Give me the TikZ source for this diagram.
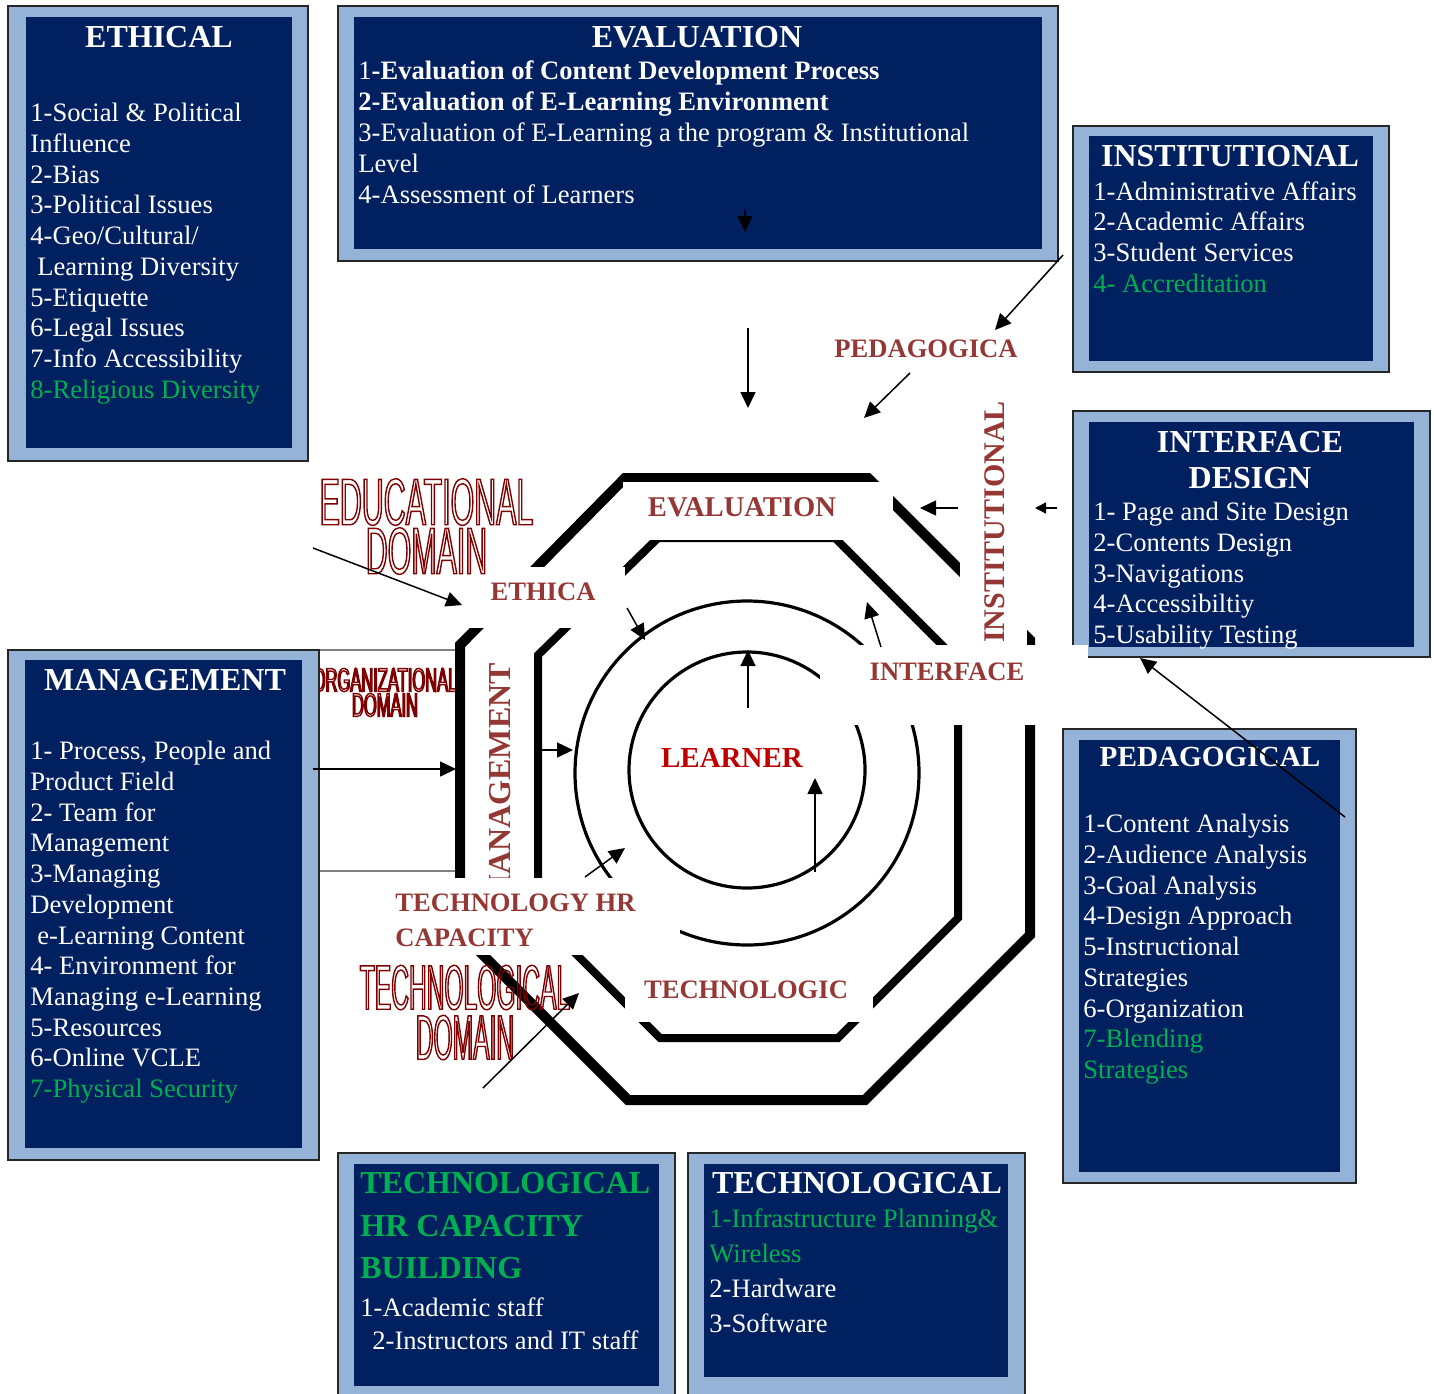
\documentclass[tikz,border=0pt]{standalone}
\usepackage{fontspec}
\setmainfont{Liberation Serif}
\newfontfamily\domfont[FakeStretch=0.46]{Liberation Sans}
\newfontfamily\domfontb[FakeStretch=0.39]{Liberation Sans}
\newfontfamily\orgfont[FakeStretch=0.5]{Liberation Sans}
\usetikzlibrary{arrows.meta}
\definecolor{navy}{HTML}{002060}
\definecolor{paleblue}{HTML}{95B3D7}
\definecolor{itemgreen}{HTML}{00B050}
\definecolor{labelred}{HTML}{953734}
\definecolor{learnerred}{HTML}{C00000}
\definecolor{domainred}{HTML}{7F0000}
% hollow letters for the domain names
\newcommand\hollowon{\special{pdf:literal direct 1 Tr 0.7 w}}
\newcommand\hollowoff{\special{pdf:literal direct 0 Tr}}
\tikzset{
  outerbox/.style={draw=black!85, line width=0.8pt, fill=paleblue},
  innerbox/.style={fill=navy},
  boxtitle/.style={text=white, font=\fontsize{16}{18}\selectfont\bfseries, inner sep=0pt},
  boxitems/.style={text=white, font=\fontsize{13.3}{15.35}\selectfont, align=left, anchor=north west, inner sep=0pt},
  ringlabel/.style={text=labelred, font=\fontsize{13.3}{17.5}\selectfont\bfseries, inner sep=0pt},
  domainname/.style={text=domainred, align=center, inner sep=0pt, execute at end node=\hollowoff},
  outerring/.style={line width=5pt},
  innerring/.style={line width=4pt},
  orbit/.style={line width=1.6pt},
  cover/.style={fill=white},
  arr/.style={-{Triangle[length=8pt,width=7.5pt]}, line width=0.75pt},
}
\begin{document}
\begin{tikzpicture}[x=0.5pt, y=-0.5pt]
\useasboundingbox (0,0) rectangle (1434,1393);

% organizational domain frame and name (under the management box)
\draw[gray, line width=0.6pt] (313,650) rectangle (457,871);
\node[domainname, font=\orgfont\fontsize{16.5}{12.5}\selectfont\hollowon] (org-dom) at (385,692.5) {ORGANIZATIONAL\\DOMAIN};

% ethical
\draw[outerbox] (8,6) rectangle (308,461);
\fill[innerbox] (26,17) rectangle (292,448);
\node[boxtitle] (eth-title) at (159,37) {ETHICAL};
\node[boxitems] (eth-list) at (30,103) {1-Social \& Political\\Influence\\2-Bias\\3-Political Issues\\4-Geo/Cultural/\\\hspace{3.5pt}Learning Diversity\\5-Etiquette\\6-Legal Issues\\7-Info Accessibility\\\textcolor{itemgreen}{8-Religious Diversity}};

% evaluation
\draw[outerbox] (338,6) rectangle (1058,261);
\fill[innerbox] (354,17) rectangle (1042,249);
\node[boxtitle] (eval-title) at (697,37) {EVALUATION};
\node[boxitems, font=\fontsize{13.3}{15.5}\selectfont] (eval-list) at (358,60) {1\textbf{-Evaluation of Content Development Process}\\\textbf{2-Evaluation of E-Learning Environment}\\3-Evaluation of E-Learning a the program \& Institutional\\Level\\4-Assessment of Learners};

% institutional
\draw[outerbox] (1073,126) rectangle (1389,372);
\fill[innerbox] (1089,136) rectangle (1373,361);
\node[boxtitle] (inst-title) at (1230,156) {INSTITUTIONAL};
\node[boxitems] (inst-list) at (1093,181) {1-Administrative Affairs\\2-Academic Affairs\\3-Student Services\\\textcolor{itemgreen}{4- Accreditation}};

% interface design
\draw[outerbox] (1073,411) rectangle (1430,657);
\fill[innerbox] (1089,422) rectangle (1414,647);
\node[boxtitle, align=center, anchor=north] (ifc-title) at (1250,431) {INTERFACE\\DESIGN};
\node[boxitems] (ifc-list) at (1093,502) {1- Page and Site Design\\2-Contents Design\\3-Navigations\\4-Accessibiltiy\\5-Usability Testing};

% pedagogical
\draw[outerbox] (1063,729) rectangle (1356,1183);
\fill[innerbox] (1079,740) rectangle (1340,1172);
\node[boxtitle, font=\fontsize{14.6}{17}\selectfont\bfseries] (ped-title) at (1210,757) {PEDAGOGICAL};
\node[boxitems] (ped-list) at (1083,814) {1-Content Analysis\\2-Audience Analysis\\3-Goal Analysis\\4-Design Approach\\5-Instructional\\Strategies\\6-Organization\\\textcolor{itemgreen}{7-Blending}\\\textcolor{itemgreen}{Strategies}};

% management
\draw[outerbox] (8,650) rectangle (319,1160);
\fill[innerbox] (25,660) rectangle (302,1148);
\node[boxtitle] (mgt-title) at (165,680) {MANAGEMENT};
\node[boxitems] (mgt-list) at (30,741) {1- Process, People and\\Product Field\\2- Team for\\Management\\3-Managing\\Development\\\hspace{3.5pt}e-Learning Content\\4- Environment for\\Managing e-Learning\\5-Resources\\6-Online VCLE\\\textcolor{itemgreen}{7-Physical Security}};

% technological hr capacity building
\draw[outerbox] (338,1153) rectangle (675,1400);
\fill[innerbox] (354,1164) rectangle (659,1386);
\node[boxitems, text=itemgreen, font=\fontsize{16}{21.25}\selectfont\bfseries] (hr-title) at (360,1172) {TECHNOLOGICAL\\HR CAPACITY\\BUILDING};
\node[boxitems, font=\fontsize{13.3}{16.5}\selectfont] (hr-list) at (360,1297) {1-Academic staff\\\hspace{6pt}2-Instructors and IT staff};

% technological
\draw[outerbox] (688,1153) rectangle (1025,1400);
\fill[innerbox] (704,1164) rectangle (1008,1377);
\node[boxtitle] (tech-title) at (857,1183) {TECHNOLOGICAL};
\node[boxitems, font=\fontsize{13.3}{17.5}\selectfont] (tech-list) at (709,1208) {\textcolor{itemgreen}{1-Infrastructure Planning\&}\\\textcolor{itemgreen}{Wireless}\\2-Hardware\\3-Software};

% rings round the learner
\draw[outerring] (625,478) -- (868,478) -- (1030,640) -- (1030,935) -- (865,1100) -- (628,1100) -- (460,932) -- (460,645) -- cycle;
\draw[innerring] (658,538) -- (835,538) -- (958,661) -- (958,918) -- (838,1038) -- (660,1038) -- (538,916) -- (538,655) -- cycle;
\draw[orbit] (747,773) circle [radius=172];
\draw[orbit] (747,770) circle [radius=118];

% ring labels on white
\node[ringlabel, rotate=90, font=\fontsize{16}{18}\selectfont\bfseries] (lbl-mgt) at (500,784) {MANAGEMENT};
\fill[cover] (623,482) rectangle (893,540);
\node[ringlabel, font=\fontsize{14.3}{17}\selectfont\bfseries] (lbl-eval) at (742,507) {EVALUATION};
\fill[cover] (462,567) rectangle (625,628);
\node[ringlabel] (lbl-eth) at (543,592) {ETHICA};
\fill[cover] (960,400) rectangle (1027,645);
\node[ringlabel, rotate=90, font=\fontsize{15}{17}\selectfont\bfseries] (lbl-inst) at (995,522) {INSTITUTIONAL};
\fill[cover] (820,645) rectangle (1088,725);
\node[ringlabel] (lbl-ifc) at (947,672) {INTERFACE};
\fill[cover] (390,878) rectangle (680,955);
\node[ringlabel, align=left, anchor=north west] (lbl-hr) at (395,893) {TECHNOLOGY HR\\CAPACITY};
\fill[cover] (625,955) rectangle (873,1022);
\node[ringlabel] (lbl-tech) at (746,990) {TECHNOLOGIC};
\node[ringlabel] (lbl-ped) at (926,349) {PEDAGOGICA};
\node[ringlabel, text=learnerred, font=\fontsize{14.5}{17}\selectfont\bfseries] (learner) at (732,758) {LEARNER};

% domain names
\node[domainname, font=\domfont\fontsize{33}{24.5}\selectfont\hollowon] (edu-dom) at (426.5,526.5) {EDUCATIONAL\\DOMAIN};
\node[domainname, font=\domfontb\fontsize{31.5}{25}\selectfont\hollowon] (tech-dom) at (465,1012.5) {TECHNOLOGICAL\\DOMAIN};

% arrow ends
\coordinate (evin-s) at (745,210);
\coordinate (evin-e) at (745,232);
\coordinate (ev-s) at (748,328);
\coordinate (ev-e) at (748,408);
\coordinate (inst-s) at (1063,255);
\coordinate (inst-e) at (995,330);
\coordinate (ped-s) at (910,373);
\coordinate (ped-e) at (864,418);
\coordinate (ring-s) at (958,508);
\coordinate (ring-e) at (920,508);
\coordinate (ifcbox-s) at (1057,508);
\coordinate (ifcbox-e) at (1035,508);
\coordinate (pedbox-s) at (1345,817);
\coordinate (pedbox-e) at (1140,658);
\coordinate (ifc-s) at (881,647);
\coordinate (ifc-e) at (867,602);
\coordinate (eth-s) at (627,608);
\coordinate (eth-e) at (645,640);
\coordinate (edu-s) at (313,548);
\coordinate (edu-e) at (462,605);
\coordinate (top-s) at (748,708);
\coordinate (top-e) at (748,650);
\coordinate (low-s) at (815,872);
\coordinate (low-e) at (815,778);
\coordinate (org-s) at (313,769);
\coordinate (org-e) at (456,769);
\coordinate (mgt-s) at (540,750);
\coordinate (mgt-e) at (573,750);
\coordinate (hr-s) at (585,877);
\coordinate (hr-e) at (625,848);
\coordinate (techd-s) at (483,1088);
\coordinate (techd-e) at (579,993);

\draw[arr] (evin-s) -- (evin-e);
\draw[arr] (ev-s) -- (ev-e);
\draw[arr] (inst-s) -- (inst-e);
\draw[arr] (ped-s) -- (ped-e);
\draw[arr] (ring-s) -- (ring-e);
\draw[arr, -{Triangle[length=5.5pt,width=5.5pt]}] (ifcbox-s) -- (ifcbox-e);
\draw[arr] (pedbox-s) -- (pedbox-e);
\draw[arr] (ifc-s) -- (ifc-e);
\draw[arr] (eth-s) -- (eth-e);
\draw[arr] (edu-s) -- (edu-e);
\draw[arr] (top-s) -- (top-e);
\draw[arr] (low-s) -- (low-e);
\draw[arr] (org-s) -- (org-e);
\draw[arr] (mgt-s) -- (mgt-e);
\draw[arr] (hr-s) -- (hr-e);
\draw[arr] (techd-s) -- (techd-e);
\end{tikzpicture}
\end{document}
